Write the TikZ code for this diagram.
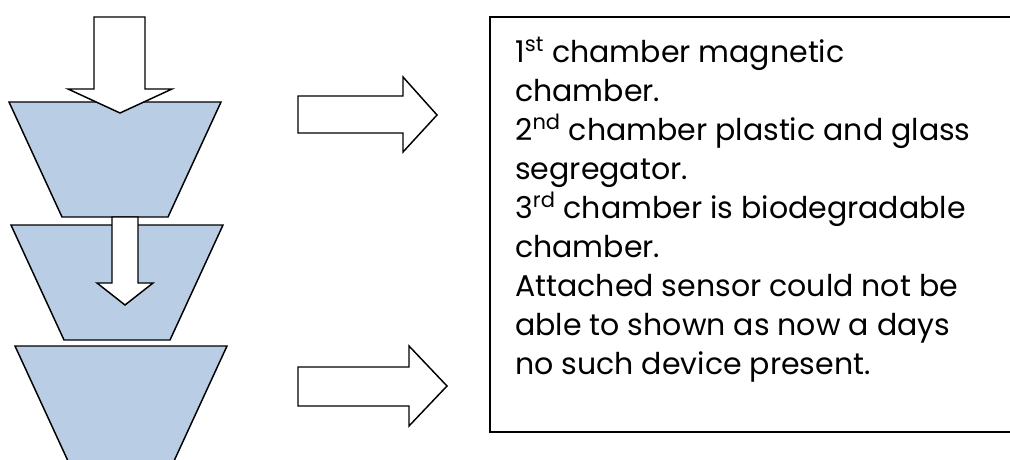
\documentclass[tikz,border=0pt]{standalone}
\usepackage{fontspec}
\setmainfont{Poppins}
\usetikzlibrary{positioning}
\definecolor{chamberblue}{HTML}{B9CDE5}

\begin{document}
\begin{tikzpicture}[
		x=0.75pt, y=-0.75pt,
		chamber/.style={draw=black, fill=chamberblue, line width=1.1pt},
		blockarrow/.style={draw=black, fill=white, line width=1.1pt},
		infobox/.style={rectangle, draw=black, line width=1.1pt, inner sep=0pt, outer sep=0pt, minimum width=397.5pt, minimum height=311.25pt},
		info/.style={inner sep=0pt, align=left, font=\fontsize{22.5pt}{29.25pt}\selectfont}
		]
		\useasboundingbox (0,0) rectangle (1010,460);
		
		% 1. Chambers (bottom one first)
		\foreach \cx/\cy in {15/346, 11/225, 9/102} {
			\draw[chamber] (\cx,\cy) -- ++(212,0) -- ++(-53,115) -- ++(-106,0) -- cycle;
		}
		
		% 2. Downward arrows
		\draw[blockarrow] (94,17) -- (145,17) -- (145,89) -- (172,89) -- (120,113) -- (68,89) -- (94,89) -- cycle;
		\draw[blockarrow] (112,217) -- (138,217) -- (138,283) -- (153,283) -- (125,305) -- (97,283) -- (112,283) -- cycle;
		
		% 3. Arrows to the description
		\draw[blockarrow] (298,96) -- (403,96) -- (403,77) -- (437,115) -- (403,152) -- (403,133) -- (298,133) -- cycle;
		\draw[blockarrow] (298,367) -- (409,367) -- (409,346) -- (447,386) -- (409,426) -- (409,406) -- (298,406) -- cycle;
		
		% 4. Description (base = last line)
		\node[infobox, anchor=north west] (box) at (490,17) {};
		\node[info, anchor=base west] (desc) at (515,374) {
			1\textsuperscript{st} chamber magnetic\\
			chamber.\\
			2\textsuperscript{nd} chamber plastic and glass\\
			segregator.\\
			3\textsuperscript{rd} chamber is biodegradable\\
			chamber.\\
			Attached sensor could not be\\
			able to shown as now a days\\
			no such device present.
		};
	\end{tikzpicture}
\end{document}
